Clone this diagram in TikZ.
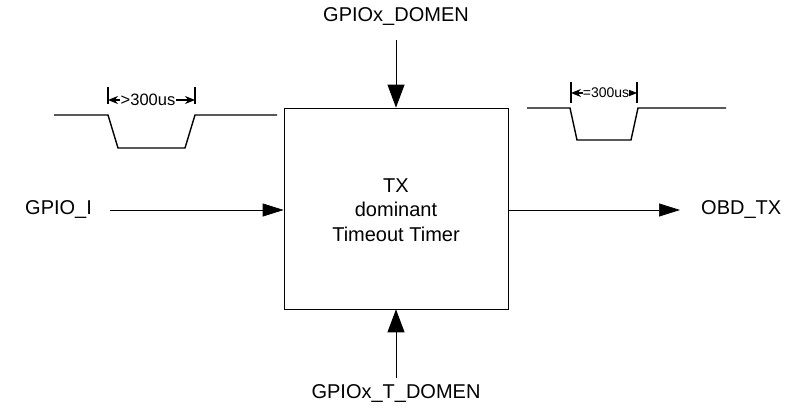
\documentclass[tikz,border=0pt]{standalone}
\usepackage{fontspec}
\setmainfont{Liberation Sans}
\usetikzlibrary{arrows.meta}
\begin{document}
\begin{tikzpicture}[x=1pt,y=-1pt,
  lbl/.style={font=\fontsize{20}{24.5}\selectfont, inner sep=0pt},
  bigv/.style={-{Triangle[length=23pt,width=17pt]}, line width=1pt},
  bigh/.style={-{Triangle[length=21pt,width=13pt]}, line width=0.7pt},
  wave/.style={line width=1.4pt},
  dimarr/.style={{Stealth[length=10pt,width=8pt]}-{Stealth[length=10pt,width=8pt]}, line width=1.2pt},
  tick/.style={line width=1.2pt}]
\useasboundingbox (0,0) rectangle (788,412);
\node[draw, line width=0.7pt, minimum width=224pt, minimum height=201pt, inner sep=0pt] (box) at (396,208.5) {};
\node[lbl, align=center] (txt) at (396,210) {TX\\dominant\\Timeout Timer};
% top
\node[lbl] (top) at (396,17) {GPIOx\_DOMEN};
\coordinate (topS) at (396,40);
\draw[bigv] (topS) -- (box.north);
% bottom
\node[lbl] (bot) at (396,394) {GPIOx\_T\_DOMEN};
\coordinate (botS) at (396,378);
\draw[bigv] (botS) -- (box.south);
% left
\node[lbl, anchor=west] (gi) at (25,210) {GPIO\_I};
\coordinate (inS) at (110,210);
\draw[bigh] (inS) -- (box.west |- inS);
% right
\node[lbl, anchor=west] (obd) at (701,210) {OBD\_TX};
\coordinate (outE) at (680,210);
\draw[bigh] (box.east |- outE) -- (outE);
% left waveform
\draw[wave] (54,115) -- (108,115) -- (118,148) -- (185,148) -- (195,115) -- (277,115);
\coordinate (l1) at (108,100);
\coordinate (l2) at (195,100);
\draw[tick] (108,87) -- (108,104);
\draw[tick] (195,87) -- (195,104);
\draw[dimarr] (l1) -- (l2);
\node[font=\fontsize{16.5}{16.5}\selectfont, fill=white, inner sep=0.3pt] (lt) at (148,100) {>300us};
% right waveform
\draw[wave] (527,108) -- (570,108) -- (577,140) -- (631,140) -- (638,108) -- (726,108);
\coordinate (r1) at (571,93);
\coordinate (r2) at (637,93);
\draw[tick] (571,82) -- (571,103);
\draw[tick] (637,82) -- (637,103);
\draw[dimarr] (r1) -- (r2);
\node[font=\fontsize{14}{14}\selectfont, fill=white, inner sep=0.2pt] (rt) at (606,93) {=300us};
\end{tikzpicture}
\end{document}
